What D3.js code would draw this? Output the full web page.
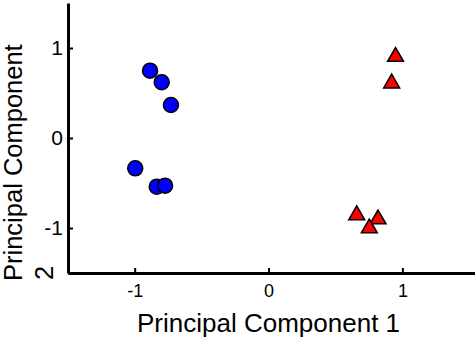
<!DOCTYPE html>
<html lang="en">
<head>
<meta charset="UTF-8">
<title>PCA scatter</title>
<script src="https://d3js.org/d3.v7.min.js"></script>
<style>
  body { margin: 0; background: white; font-family: "Liberation Sans", Arial, sans-serif; }
  .axis path.domain { stroke: black; stroke-width: 3px; }
  .axis line { stroke: black; stroke-width: 2px; }
  .axis text { fill: black; font-family: "Liberation Sans", Arial, sans-serif; }
</style>
</head>
<body>
<svg id="chart" width="475" height="340"></svg>
<script>
// group 1 (circles)
var circleX = [-0.885, -0.798, -0.729, -0.996, -0.835, -0.773];
var circleY = [0.748, 0.619, 0.367, -0.337, -0.541, -0.530];
// group 2 (triangles)
var triX = [0.949, 0.920, 0.659, 0.818, 0.753];
var triY = [0.903, 0.608, -0.856, -0.903, -1.003];

var xTicks = [-1, 0, 1];
var yTicks = [-1, 0, 1];

var svg = d3.select("#chart");

var x = d3.scaleLinear().domain([-1.5, 1.55]).range([67.75, 476]);
var y = d3.scaleLinear().domain([-1.5, 1.5]).range([273, 3]);

// x axis
var gx = svg.append("g").attr("class", "axis")
    .attr("transform", "translate(0,273)")
    .call(d3.axisBottom(x).tickValues(xTicks).tickFormat(function (d) { return String(d); })
        .tickSizeInner(-5).tickSizeOuter(0).tickPadding(11));
gx.selectAll("text").style("font-size", "18px");

// y axis
var gy = svg.append("g").attr("class", "axis")
    .attr("transform", "translate(68,0)")
    .call(d3.axisLeft(y).tickValues(yTicks).tickFormat(function (d) { return String(d); })
        .tickSizeInner(-5).tickSizeOuter(0).tickPadding(5));
gy.selectAll("text").style("font-size", "21px");

// axis titles
svg.append("text")
    .attr("x", x(0))
    .attr("y", 332)
    .attr("text-anchor", "middle")
    .style("font-size", "26px")
    .text("Principal Component 1");

var yTitle = svg.append("text")
    .attr("transform", "rotate(-90)")
    .style("font-size", "25.5px");
yTitle.append("tspan").attr("x", -281).attr("y", 22).text("Principal Component");
yTitle.append("tspan").attr("x", -280).attr("y", 53).text("2");

// circles
var circleData = circleX.map(function (d, i) { return { x: d, y: circleY[i] }; });
svg.append("g").selectAll("circle")
    .data(circleData)
    .enter().append("circle")
    .attr("cx", function (d) { return x(d.x); })
    .attr("cy", function (d) { return y(d.y); })
    .attr("r", 7.5)
    .attr("fill", "#0000ff")
    .attr("stroke", "black")
    .attr("stroke-width", 1.5);

// triangles
var triData = triX.map(function (d, i) { return { x: d, y: triY[i] }; });
svg.append("g").selectAll("path")
    .data(triData)
    .enter().append("path")
    .attr("transform", function (d) { return "translate(" + x(d.x) + "," + y(d.y) + ")"; })
    .attr("d", d3.symbol().type(d3.symbolTriangle).size(110))
    .attr("fill", "#ff0000")
    .attr("stroke", "black")
    .attr("stroke-width", 1.5);
</script>
</body>
</html>
